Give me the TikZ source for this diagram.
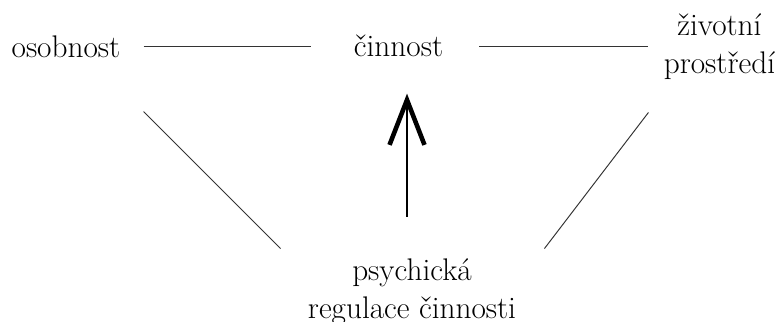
\documentclass[tikz,border=0pt]{standalone}
\usetikzlibrary{
    positioning,
    arrows.meta,
    calc
}

\begin{document}
\begin{tikzpicture}[
    word/.style={inner sep=0pt, align=center, font=\fontsize{17.8pt}{21.5pt}\selectfont},
    link/.style={line width=0.55pt, color=black!80},
    arrow/.style={line width=1.2pt, -{Straight Barb[length=0.9cm, width=0.7cm, line width=2.6pt]}}
]
\useasboundingbox (0,0) rectangle (15.62,-6.44);
\node[word, anchor=base] (cinn) at (7.97,-1.14) {činnost};
\node[word, left=4.66cm of cinn] (osob) {osobnost};
\node[word, right=4.4cm of cinn] (prostredi) {životní\\prostředí};
\node[word, below=4.02cm of cinn, xshift=0.27cm] (regulace) {psychická\\regulace činnosti};

\draw[link, shorten <=0.46cm, shorten >=0.86cm] (osob.east) -- (cinn.west);
\draw[link, shorten <=0.72cm, shorten >=0.3cm] (cinn.east) -- (cinn.east -| prostredi.west);
\draw[link] ([shift={(0.46,-1.08)}]osob.south east) -- ([shift={(-0.54,0.2)}]regulace.north west);
\draw[link] ([shift={(-0.3,-0.66)}]prostredi.south west) -- ([shift={(0.56,0.2)}]regulace.north east);
\draw[arrow] ([shift={(-0.1,0.84)}]regulace.north) -- ([shift={(0.17,-0.72)}]cinn.south);
\end{tikzpicture}
\end{document}
